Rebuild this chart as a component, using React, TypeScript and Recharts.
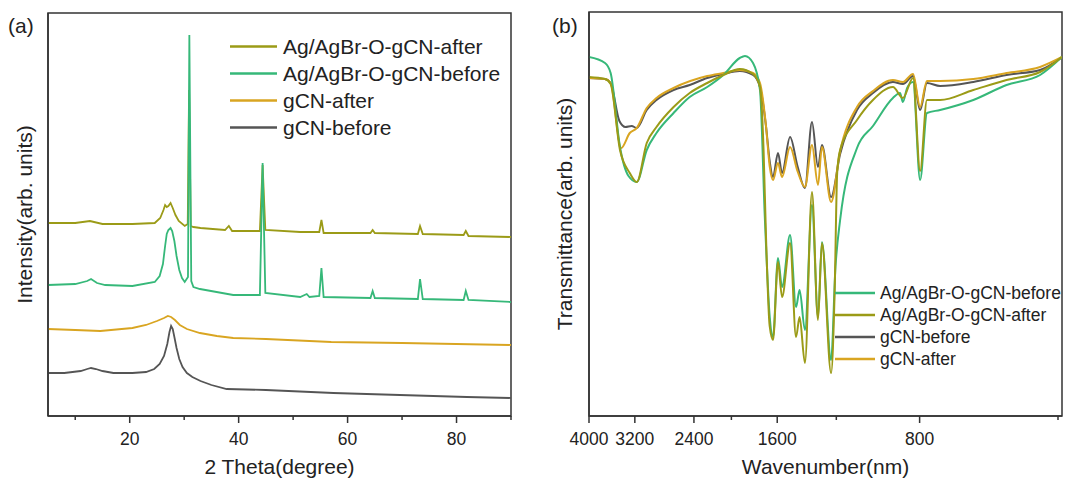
import { LineChart, Line, XAxis, YAxis, Legend, ReferenceArea } from 'recharts';

// ---- (a) XRD, 2 theta vs intensity (arb. units, curves stacked) ----
const xrdTicks = [10, 20, 30, 40, 50, 60, 70, 80, 90];
const xrdTickLabels = [20, 40, 60, 80];

const xrdGcnBefore: [number, number][] = [
  [5, 43], [8, 43], [11, 45], [12.2, 47], [12.9, 48], [13.8, 47], [15, 45], [17, 43], [20.5, 43], [23, 44],
  [24.5, 47], [25.5, 52], [26.3, 60], [26.9, 72], [27.3, 84], [27.6, 90], [27.9, 87], [28.2, 79], [28.6, 68],
  [29.1, 57], [29.7, 49], [30.5, 43], [31.5, 39], [33, 35], [35, 31], [37.8, 27], [45, 26], [57.4, 23],
  [69.6, 21], [81.9, 19], [90, 18],
];
const xrdGcnAfter: [number, number][] = [
  [5, 87], [10, 86], [14.6, 85], [20.5, 88], [23, 91], [25, 95], [26.3, 98], [27, 100], [27.6, 99],
  [28.3, 96], [29.2, 91], [30.5, 87], [32.9, 83], [36, 80], [39, 78], [45, 77], [57, 74], [70, 73], [90, 71],
];
const xrdAgBefore: [number, number][] = [
  [5, 131], [10, 132], [12.2, 135], [12.9, 137], [14, 133], [15.5, 131], [20.5, 130], [24.6, 134], [25.5, 140],
  [26.1, 152], [26.5, 170], [26.8, 182], [27.1, 186], [27.5, 188], [27.8, 185], [28.2, 175], [28.6, 160],
  [29.1, 146], [29.6, 138], [30.1, 134], [30.7, 139], [30.95, 381], [31.3, 135], [31.7, 129], [32.9, 127],
  [39, 121], [43.9, 121], [44.4, 253], [44.9, 123], [51.3, 119], [52.5, 122], [53, 119], [54.8, 120],
  [55.2, 148], [55.6, 119], [64.2, 118], [64.6, 125], [65, 118], [72.9, 117], [73.3, 137], [73.8, 117],
  [81.3, 116], [81.7, 125], [82.2, 116], [90, 114],
];
const xrdAgAfter: [number, number][] = [
  [5, 193], [10, 193], [12.7, 195], [15, 192], [20.5, 192], [24.6, 193], [25.6, 198], [26.2, 206], [26.5, 211],
  [26.8, 209], [27.1, 210], [27.5, 213], [27.9, 208], [28.4, 201], [29, 195], [30.1, 190], [30.65, 192],
  [30.9, 326], [31.2, 190], [31.7, 189], [33, 188], [37.5, 186], [38.2, 190], [38.8, 185], [43.9, 185],
  [44.4, 251], [44.9, 186], [51.3, 184], [54.8, 184], [55.2, 196], [55.6, 183], [64.2, 183], [64.6, 186],
  [65, 183], [72.9, 182], [73.3, 190], [73.8, 182], [81.3, 181], [81.7, 185], [82.2, 180], [90, 179],
];

// ---- (b) FTIR, wavenumber vs transmittance ----
const ftirTicks = [4000, 3600, 3200, 2800, 2400, 2000, 1600, 1200, 800, 400];
const ftirTickLabels = [4000, 3200, 2400, 1600, 800];

const ftirGcnBefore: [number, number][] = [
  [4000, 338], [3700, 337], [3600, 333], [3450, 295], [3350, 289], [3250, 290], [3170, 288], [3020, 306],
  [2880, 316], [2650, 326], [2450, 331], [2250, 338], [2080, 342], [1920, 345], [1800, 341], [1740, 329],
  [1690, 290], [1660, 255], [1633, 239], [1594, 263], [1563, 243], [1503, 279], [1450, 250], [1398, 228],
  [1351, 294], [1312, 249], [1287, 271], [1231, 219], [1178, 262], [1085, 306], [1004, 323], [911, 334],
  [868, 332], [826, 340], [798, 306], [772, 333], [724, 330], [616, 334], [524, 341], [445, 346], [400, 359],
];
const ftirGcnAfter: [number, number][] = [
  [4000, 338], [3700, 337], [3600, 333], [3420, 268], [3280, 283], [3170, 288], [3020, 308], [2880, 318],
  [2650, 328], [2250, 340], [2080, 343], [1920, 346], [1800, 343], [1740, 333], [1690, 290], [1660, 250],
  [1633, 236], [1594, 253], [1563, 239], [1503, 269], [1450, 245], [1398, 229], [1351, 271], [1312, 231],
  [1287, 269], [1231, 214], [1178, 265], [1085, 309], [1004, 325], [911, 336], [868, 334], [826, 342],
  [798, 309], [772, 335], [724, 335], [616, 337], [524, 343], [445, 349], [400, 359],
];
const ftirAgBefore: [number, number][] = [
  [4000, 359], [3700, 353], [3600, 343], [3440, 269], [3300, 240], [3170, 234], [3020, 266], [2880, 283],
  [2650, 303], [2450, 319], [2250, 329], [2080, 341], [1920, 358], [1872, 360], [1800, 353], [1740, 326],
  [1700, 200], [1660, 100], [1633, 79], [1594, 158], [1563, 129], [1503, 181], [1460, 109], [1435, 126],
  [1398, 86], [1351, 211], [1312, 99], [1287, 174], [1231, 56], [1205, 149], [1178, 196], [1085, 268],
  [1004, 290], [911, 318], [880, 323], [868, 314], [850, 328], [826, 334], [798, 236], [772, 303],
  [724, 306], [616, 316], [524, 331], [445, 341], [400, 359],
];
const ftirAgAfter: [number, number][] = [
  [4000, 339], [3700, 337], [3600, 332], [3440, 266], [3280, 243], [3170, 234], [3020, 273], [2880, 289],
  [2650, 309], [2450, 323], [2250, 333], [2080, 341], [1920, 347], [1800, 342], [1740, 329], [1710, 266],
  [1690, 180], [1660, 90], [1633, 76], [1594, 154], [1563, 119], [1503, 173], [1460, 79], [1435, 99],
  [1398, 53], [1351, 224], [1312, 96], [1287, 173], [1231, 43], [1210, 123], [1195, 243], [1178, 266],
  [1085, 296], [1004, 316], [911, 329], [868, 318], [826, 338], [798, 245], [772, 316], [724, 316],
  [616, 326], [524, 336], [445, 344], [400, 359],
];

const C_GRAY = '#555555';
const C_GOLD = '#d9a521';
const C_GREEN = '#36b879';
const C_OLIVE = '#9b9b17';
const AXIS = '#333333';
const FONT = '"Liberation Sans", Arial, sans-serif';

const pts = (arr: [number, number][]) => arr.map(([x, y]) => ({ x, y }));

const XTick = (props: any) => {
  const { x, y, payload, labels } = props;
  const major = labels.includes(payload.value);
  return (
    <g>
      <line x1={x} x2={x} y1={y} y2={y + (major ? 7 : 4)} stroke={AXIS} strokeWidth={1.5} />
      {major && (
        <text x={x} y={y + 29} textAnchor="middle" fontSize={17.5} fill="#222">
          {payload.value}
        </text>
      )}
    </g>
  );
};

const LegendBox = ({ items, fontSize, rowGap, lineLen, gap }: any) => (
  <svg width={320} height={items.length * rowGap} style={{ display: 'block', overflow: 'visible' }}>
    {items.map((it: any, i: number) => {
      const cy = rowGap * i + rowGap / 2;
      return (
        <g key={it.name}>
          <line x1={0} x2={lineLen} y1={cy} y2={cy} stroke={it.color} strokeWidth={2.5} />
          <text x={lineLen + gap} y={cy + fontSize * 0.36} fontSize={fontSize} fill="#222" fontFamily={FONT}>
            {it.name}
          </text>
        </g>
      );
    })}
  </svg>
);

const xrdLegend = [
  { name: 'Ag/AgBr-O-gCN-after', color: C_OLIVE },
  { name: 'Ag/AgBr-O-gCN-before', color: C_GREEN },
  { name: 'gCN-after', color: C_GOLD },
  { name: 'gCN-before', color: C_GRAY },
];
const ftirLegend = [
  { name: 'Ag/AgBr-O-gCN-before', color: C_GREEN },
  { name: 'Ag/AgBr-O-gCN-after', color: C_OLIVE },
  { name: 'gCN-before', color: C_GRAY },
  { name: 'gCN-after', color: C_GOLD },
];

const XrdChart = () => (
  <LineChart width={530} height={480} margin={{ top: 13, right: 19, left: 0, bottom: 0 }}>
    <XAxis
      dataKey="x" type="number" domain={[5, 90]} allowDataOverflow ticks={xrdTicks}
      tick={(p: any) => <XTick {...p} labels={xrdTickLabels} />}
      tickLine={false} tickSize={0} tickMargin={0} height={64}
      axisLine={{ stroke: AXIS, strokeWidth: 1.5 }}
      label={{ value: '2 Theta(degree)', position: 'insideBottom', offset: 6, fontSize: 21, fill: '#222' }}
    />
    <YAxis
      type="number" domain={[0, 403]} allowDataOverflow tick={false} tickLine={false} width={48}
      axisLine={{ stroke: AXIS, strokeWidth: 1.5 }}
      label={{ value: 'Intensity(arb. units)', angle: -90, position: 'center', dx: 1, fontSize: 21, fill: '#222' }}
    />
    <ReferenceArea x1={5} x2={90} y1={0} y2={403} fill="none" stroke={AXIS} strokeWidth={1.5} />
    <Legend
      layout="vertical" verticalAlign="middle" align="center"
      wrapperStyle={{ left: 230, top: 33 }}
      content={() => <LegendBox items={xrdLegend} fontSize={21} rowGap={27} lineLen={47} gap={6} />}
    />
    <Line data={pts(xrdGcnBefore)} dataKey="y" type="linear" stroke={C_GRAY} strokeWidth={1.8} dot={false} isAnimationActive={false} />
    <Line data={pts(xrdGcnAfter)} dataKey="y" type="linear" stroke={C_GOLD} strokeWidth={1.8} dot={false} isAnimationActive={false} />
    <Line data={pts(xrdAgAfter)} dataKey="y" type="linear" stroke={C_OLIVE} strokeWidth={1.8} dot={false} isAnimationActive={false} />
    <Line data={pts(xrdAgBefore)} dataKey="y" type="linear" stroke={C_GREEN} strokeWidth={1.8} dot={false} isAnimationActive={false} />
  </LineChart>
);

const FtirChart = () => (
  <LineChart width={530} height={480} margin={{ top: 12, right: 8, left: 0, bottom: 0 }}>
    <XAxis
      dataKey="x" type="number" scale="log" domain={[400, 4000]} reversed allowDataOverflow ticks={ftirTicks}
      tick={(p: any) => <XTick {...p} labels={ftirTickLabels} />}
      tickLine={false} tickSize={0} tickMargin={0} height={64}
      axisLine={{ stroke: AXIS, strokeWidth: 1.5 }}
      label={{ value: 'Wavenumber(nm)', position: 'insideBottom', offset: 6, fontSize: 21, fill: '#222' }}
    />
    <YAxis
      type="number" domain={[0, 404]} allowDataOverflow tick={false} tickLine={false} width={49}
      axisLine={{ stroke: AXIS, strokeWidth: 1.5 }}
      label={{ value: 'Transmittance(arb. units)', angle: -90, position: 'center', fontSize: 21, fill: '#222' }}
    />
    <ReferenceArea x1={4000} x2={400} y1={0} y2={404} fill="none" stroke={AXIS} strokeWidth={1.5} />
    <Legend
      layout="vertical" verticalAlign="middle" align="center"
      wrapperStyle={{ left: 295, top: 282 }}
      content={() => <LegendBox items={ftirLegend} fontSize={17.5} rowGap={22} lineLen={40} gap={5} />}
    />
    <Line data={pts(ftirGcnBefore)} dataKey="y" type="monotone" stroke={C_GRAY} strokeWidth={2} dot={false} isAnimationActive={false} />
    <Line data={pts(ftirGcnAfter)} dataKey="y" type="monotone" stroke={C_GOLD} strokeWidth={2} dot={false} isAnimationActive={false} />
    <Line data={pts(ftirAgBefore)} dataKey="y" type="monotone" stroke={C_GREEN} strokeWidth={2} dot={false} isAnimationActive={false} />
    <Line data={pts(ftirAgAfter)} dataKey="y" type="monotone" stroke={C_OLIVE} strokeWidth={2} dot={false} isAnimationActive={false} />
  </LineChart>
);

export default function App() {
  return (
    <div style={{ position: 'absolute', left: 0, top: 0, width: 1070, height: 480, background: '#fff', fontFamily: FONT, color: '#222' }}>
      <div style={{ position: 'absolute', left: 8, top: 15, fontSize: 21, lineHeight: '21px' }}>(a)</div>
      <div style={{ position: 'absolute', left: 552, top: 15, fontSize: 21, lineHeight: '21px' }}>(b)</div>
      <div style={{ position: 'absolute', left: 0, top: 0 }}>
        <XrdChart />
      </div>
      <div style={{ position: 'absolute', left: 540, top: 0 }}>
        <FtirChart />
      </div>
    </div>
  );
}
